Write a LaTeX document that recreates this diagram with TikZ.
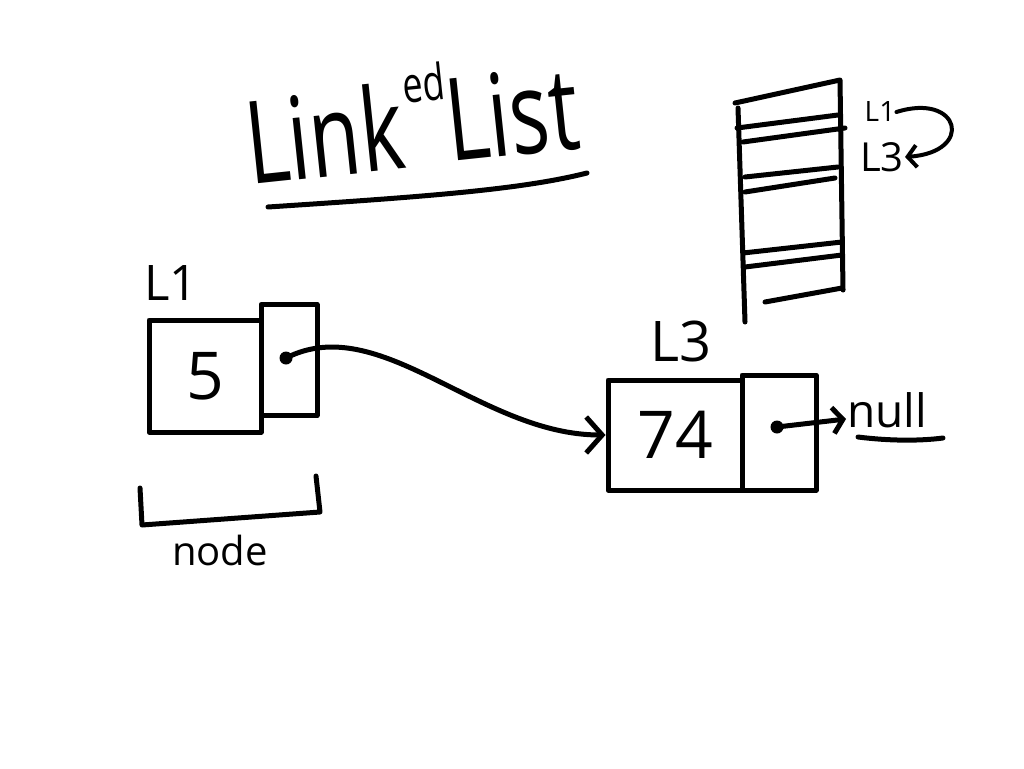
\documentclass[tikz,border=0pt]{standalone}
\usepackage{fontspec}
\setmainfont{Open Sans}
\newfontfamily\titlefont[FakeStretch=0.72]{Open Sans}
\usetikzlibrary{arrows.meta}
\begin{document}
\begin{tikzpicture}[x=1pt,y=-1pt,
  hand/.style={line width=5pt,line cap=round,line join=round},
  cell/.style={hand,draw,rectangle,inner sep=0pt},
  dot/.style={circle,fill,inner sep=0pt,minimum size=13pt},
  lab/.style={inner sep=1pt},
  ttl/.style={anchor=base west,rotate=6,inner sep=0pt},
  bigtip/.style={-{Straight Barb[length=16pt,width=36pt]}},
  smalltip/.style={-{Straight Barb[length=10pt,width=26pt]}},
  memtip/.style={-{Straight Barb[length=9pt,width=22pt]}}]
\useasboundingbox (0,0) rectangle (1024,768);
\fill[white] (0,0) rectangle (1024,768);

% title
\node[ttl] (tlink) at (250,185) {\titlefont\fontsize{115}{115}\selectfont Link};
\node[ttl] (ted) at (404,104) {\titlefont\fontsize{50}{50}\selectfont ed};
\node[ttl] (tlist) at (450,162) {\titlefont\fontsize{115}{115}\selectfont List};
\draw[hand] (268,207) .. controls (420,197) and (520,190) .. (587,173);

% memory stack
\draw[hand] (735,103) -- (840,80) -- (843,290);
\draw[hand] (738,108) -- (745,322);
\draw[hand] (737,128) -- (838,115);
\draw[hand] (743,142) -- (845,128);
\draw[hand] (745,177) -- (838,167);
\draw[hand] (745,192) -- (835,178);
\draw[hand] (743,253) -- (842,242);
\draw[hand] (745,267) -- (842,255);
\draw[hand] (765,302) -- (842,288);
\node[lab] (mL1) at (880,112) {\fontsize{28}{28}\selectfont L1};
\node[lab] (mL3) at (882,157) {\fontsize{40}{40}\selectfont L3};
\draw[hand,line width=4pt,memtip] (mL1.east) .. controls (960,92) and (975,152) .. (mL3.east);

% node L1
\node[lab] (l1lab) at (171,283) {\fontsize{49}{49}\selectfont L1};
\node[cell,minimum width=112pt,minimum height=112pt] (c1a) at (205,376)
  {\fontsize{66}{66}\selectfont 5};
\node[cell,minimum width=56pt,minimum height=111pt] (c1b) at (289,360) {};
\node[dot] (d1) at (286,358) {};

% bracket and label
\draw[hand] (140,488) -- (142,525) -- (320,512) -- (316,476);
\node[lab] (nodelab) at (220,550) {\fontsize{40}{40}\selectfont node};

% node L3
\node[lab] (l3lab) at (681,341) {\fontsize{56}{56}\selectfont L3};
\node[cell,minimum width=134pt,minimum height=110pt] (c2a) at (675,435)
  {\fontsize{66}{66}\selectfont 74};
\node[cell,minimum width=74pt,minimum height=115pt] (c2b) at (779,432.5) {};
\node[dot] (d2) at (777,427) {};

% null
\node[lab,anchor=base west] (nul) at (846,427) {\fontsize{46}{46}\selectfont null};
\draw[hand] (858,437) .. controls (890,441) and (920,441) .. (943,438);

% connectors
\draw[hand,bigtip] (d1.center) .. controls (380,310) and (480,435) .. (c2a.west);
\draw[hand,smalltip] (d2.center) -- ([yshift=8pt]nul.base west);
\end{tikzpicture}
\end{document}
